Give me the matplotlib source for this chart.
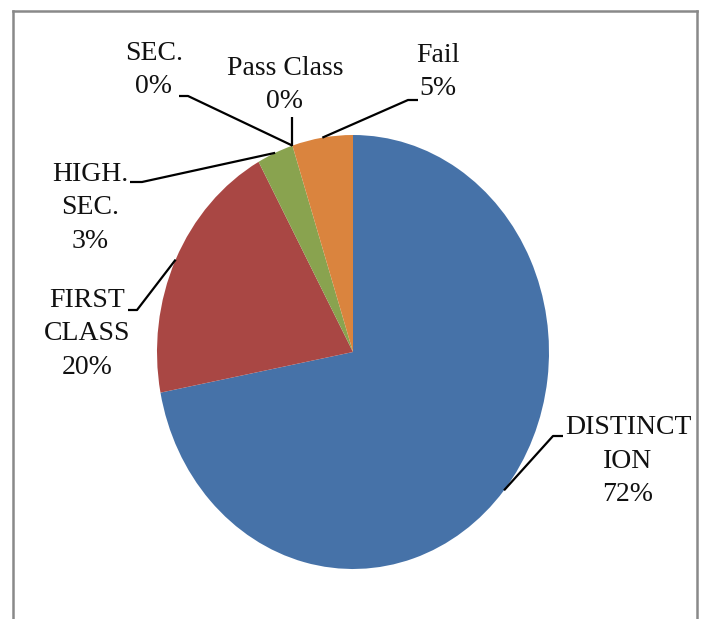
import matplotlib
matplotlib.use("Agg")
import matplotlib.pyplot as plt
from matplotlib.lines import Line2D
import numpy as np

categories = ["DISTINCTION", "FIRST CLASS", "HIGH. SEC.", "SEC.", "Pass Class", "Fail"]
values = [72, 20, 3, 0, 0, 5]
label_names = ["DISTINCT\nION", "FIRST\nCLASS", "HIGH.\nSEC.", "SEC.", "Pass Class", "Fail"]
colors = ["#4672A8", "#A94744", "#89A34F", "#DA843E", "#DA843E", "#DA843E"]

# figure size in pixels and pie geometry (pixels, y from top)
W, H = 704, 619
CX, CY = 353, 352
RX, RY = 196, 217

# label block centre, elbow and end of the leader line (pixels)
layout = {
    "DISTINCTION": dict(text=(628, 461), elbow=(553, 436), end=(563, 436)),
    "FIRST CLASS": dict(text=(87, 334), elbow=(137, 310), end=(128, 310)),
    "HIGH. SEC.": dict(text=(90, 208), elbow=(142, 182), end=(130, 182)),
    "SEC.": dict(text=(154, 70), elbow=(188, 96), end=(179, 96)),
    "Pass Class": dict(text=(285, 85), elbow=None, end=(None, 117)),
    "Fail": dict(text=(438, 72), elbow=(408, 100), end=(418, 100)),
}


def px(x, y):
    return (x - CX) / RX, (CY - y) / RY


plt.rcParams["font.family"] = ["Liberation Serif", "DejaVu Serif"]

fig = plt.figure(figsize=(W / 100, H / 100), dpi=100)
ax = fig.add_axes([0, 0, 1, 1])
wedges, _ = ax.pie(values, colors=colors, startangle=90, counterclock=False,
                   wedgeprops=dict(linewidth=0))
ax.set_aspect("auto")
ax.set_xlim(-CX / RX, (W - CX) / RX)
ax.set_ylim((CY - H) / RY, CY / RY)
ax.axis("off")

total = sum(values)
for cat, name, val, w in zip(categories, label_names, values, wedges):
    lay = layout[cat]
    mid = np.deg2rad((w.theta1 + w.theta2) / 2)
    ax_, ay_ = np.cos(mid), np.sin(mid)
    pts = [(ax_, ay_)]
    if lay["elbow"] is not None:
        pts.append(px(*lay["elbow"]))
        pts.append(px(*lay["end"]))
    else:
        pts.append((ax_, px(0, lay["end"][1])[1]))
    xs, ys = zip(*pts)
    ax.plot(xs, ys, color="black", lw=1.6, solid_capstyle="butt")
    tx, ty = px(*lay["text"])
    pct = "%d%%" % round(100 * val / total)
    ax.text(tx, ty, name + "\n" + pct, ha="center", va="center",
            multialignment="center", fontsize=20, linespacing=1.46,
            color="#111111")

# chart frame
frame_col = "#898989"
fig.add_artist(Line2D([13 / W, 13 / W], [0, 1 - 11 / H], color=frame_col, lw=1.8,
                      transform=fig.transFigure))
fig.add_artist(Line2D([13 / W, 697 / W], [1 - 11 / H, 1 - 11 / H], color=frame_col,
                      lw=1.8, transform=fig.transFigure))
fig.add_artist(Line2D([697 / W, 697 / W], [0, 1 - 11 / H], color=frame_col, lw=1.8,
                      transform=fig.transFigure))

fig.savefig("out.png", dpi=100, facecolor="white")
